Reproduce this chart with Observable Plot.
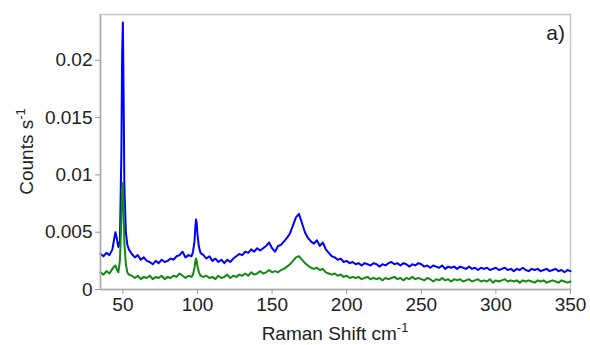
<!DOCTYPE html>
<html><head><meta charset="utf-8">
<script src="https://cdn.jsdelivr.net/npm/d3@7"></script>
<script src="https://cdn.jsdelivr.net/npm/@observablehq/plot@0.6"></script>
<style>body{margin:0;background:#fff} svg{display:block}</style>
</head><body><div id="chart"></div>
<script>
// Raman shift (cm^-1)
const shift = [35,37,39,41,43,44,45,46,47,48,49,49.5,50,50.5,51,52,53,54,
56,58,60,62,64,66,68,70,72,74,76,78,80,82,84,86,88,90,92,94,96,
97,98,98.5,99,99.5,100,101,102,
104,106,108,110,112,114,116,118,120,122,124,126,128,130,132,134,136,138,140,142,144,146,148,150,
152,154,156,158,160,162,164,166,168,170,172,174,176,178,180,182,184,186,188,190,192,194,196,198,200,
202,204,206,208,210,212,214,216,218,220,222,224,226,228,230,232,234,236,238,240,242,244,246,248,250,
252,254,256,258,260,262,264,266,268,270,272,274,276,278,280,282,284,286,288,290,292,294,296,298,300,
302,304,306,308,310,312,314,316,318,320,322,324,326,328,330,332,334,336,338,340,342,344,346,348,350];
// counts per second, in units of 1e-3
const blueMilli = [3.1,2.9,3.2,3.0,3.5,4.3,5.0,4.4,3.7,4.2,12.0,20.5,23.3,17.0,9.0,5.0,3.9,3.5,
3.1,2.8,3.0,2.6,2.8,2.5,2.4,2.2,2.5,2.3,2.6,2.4,2.5,2.7,2.6,2.9,3.0,3.3,2.8,3.0,2.9,
3.3,4.2,5.3,6.1,5.8,4.8,3.7,3.2,
3.0,2.7,2.9,2.5,2.7,2.4,2.6,2.3,2.6,2.4,2.7,2.9,3.1,3.0,3.3,3.2,3.5,3.3,3.6,3.4,3.6,3.8,4.1,3.6,
3.3,3.8,3.9,4.2,4.5,4.9,5.6,6.3,6.6,5.8,5.0,4.5,4.2,4.0,4.3,3.8,4.1,3.5,3.2,2.9,2.8,2.6,2.7,2.4,2.5,
2.3,2.4,2.2,2.3,2.1,2.3,2.2,2.1,2.3,2.2,2.0,2.2,2.1,2.3,2.4,2.2,2.3,2.1,2.3,2.2,2.0,2.2,2.1,2.3,2.2,
2.0,2.1,1.9,2.1,2.0,1.9,2.1,1.8,2.0,1.9,2.0,1.8,2.0,1.9,1.8,2.0,1.8,1.9,1.7,1.9,1.8,1.9,1.7,1.8,1.9,
1.7,1.8,1.9,1.7,1.8,1.6,1.8,1.7,1.9,1.7,1.6,1.8,1.7,1.8,1.6,1.7,1.8,1.6,1.7,1.8,1.6,1.7,1.5,1.7,1.6];
const greenMilli = [1.5,1.3,1.6,1.4,1.8,2.0,2.1,1.7,1.5,2.5,6.0,8.5,9.3,7.0,4.0,2.2,1.5,1.3,
1.2,1.0,1.2,0.9,1.1,1.0,1.2,0.9,1.1,1.0,1.2,0.9,1.1,1.0,1.2,1.1,1.4,1.2,1.0,1.2,1.1,
1.3,1.9,2.4,2.7,2.5,2.0,1.5,1.2,
1.1,1.2,1.0,1.1,0.9,1.2,1.0,1.1,1.3,1.0,1.2,1.1,1.3,1.2,1.4,1.2,1.5,1.3,1.4,1.6,1.4,1.5,1.7,1.5,
1.6,1.5,1.7,1.8,2.0,2.2,2.5,2.8,2.9,2.6,2.3,2.1,1.9,1.8,1.9,1.7,1.8,1.5,1.4,1.3,1.4,1.2,1.3,1.1,1.2,
1.0,1.1,1.0,1.1,0.9,1.0,1.1,0.9,1.0,0.9,1.0,0.8,1.0,0.9,1.0,1.1,0.9,1.0,0.8,1.0,0.9,1.1,0.9,1.0,0.9,
0.8,1.0,0.9,0.7,0.9,0.8,1.0,0.8,0.9,0.7,0.9,0.8,0.9,0.7,0.8,0.9,0.7,0.8,0.9,0.7,0.8,0.7,0.9,0.6,0.8,
0.7,0.8,0.9,0.7,0.8,0.7,0.8,0.6,0.8,0.7,0.8,0.7,0.6,0.8,0.7,0.8,0.6,0.7,0.8,0.7,0.6,0.8,0.7,0.6,0.7];
const xTicks = [50,100,150,200,250,300,350];
const yTicks = [0,0.005,0.01,0.015,0.02];
const seriesColors = {blue:"#0000ff", green:"#138a13"};

if (shift.length !== blueMilli.length || shift.length !== greenMilli.length)
  throw new Error(`length mismatch ${shift.length} ${blueMilli.length} ${greenMilli.length}`);

const blueRows = shift.map((x,i)=>({x, y: blueMilli[i]/1000}));
const greenRows = shift.map((x,i)=>({x, y: greenMilli[i]/1000}));

const W = 590, H = 345, ML = 100, MR = 20, MT = 14, MB = 56;
const chart = Plot.plot({
  width: W, height: H,
  marginLeft: ML, marginRight: MR, marginTop: MT, marginBottom: MB,
  style: {fontFamily: "'Liberation Sans', Arial, sans-serif", fontSize: "19px", background: "white", color: "#222"},
  x: {domain: [35,350], label: null},
  y: {domain: [0,0.024], label: null},
  marks: [
    Plot.frame({stroke: "#c8c8c8", strokeWidth: 1.5}),
    Plot.lineY(blueRows, {x:"x", y:"y", stroke: seriesColors.blue, strokeWidth: 2}),
    Plot.lineY(greenRows, {x:"x", y:"y", stroke: seriesColors.green, strokeWidth: 2}),
    Plot.axisX({ticks: xTicks, tickSize: 5, tickPadding: 3, stroke: "#999", fill: "#222", fontSize: 19, label: null}),
    Plot.axisY({ticks: yTicks, tickSize: 5, tickPadding: 3, stroke: "#999", fill: "#222", fontSize: 19, tickFormat: d => String(d), label: null}),
    Plot.ruleY([0], {stroke: "#aaa", strokeWidth: 1.5}),
    Plot.ruleX([35], {stroke: "#aaa", strokeWidth: 1.5})
  ]
});
document.getElementById("chart").appendChild(chart);

const svg = d3.select(chart);
const cx = ML + (W - ML - MR) / 2, cy = MT + (H - MT - MB) / 2;
const xl = svg.append("text").attr("x", cx).attr("y", 340).attr("text-anchor", "middle")
  .attr("font-size", 19).attr("fill", "#222").attr("font-family", "'Liberation Sans', Arial, sans-serif");
xl.append("tspan").text("Raman Shift cm");
xl.append("tspan").attr("dy", -8).attr("font-size", 13).text("-1");
const yl = svg.append("text").attr("transform", `translate(33,${cy}) rotate(-90)`).attr("text-anchor", "middle")
  .attr("font-size", 19).attr("fill", "#222").attr("font-family", "'Liberation Sans', Arial, sans-serif");
yl.append("tspan").text("Counts s");
yl.append("tspan").attr("dy", -8).attr("font-size", 13).text("-1");
svg.append("text").attr("x", 565).attr("y", 40).attr("text-anchor", "end")
  .attr("font-size", 21).attr("fill", "#222").attr("font-family", "'Liberation Sans', Arial, sans-serif").text("a)");
</script></body></html>
